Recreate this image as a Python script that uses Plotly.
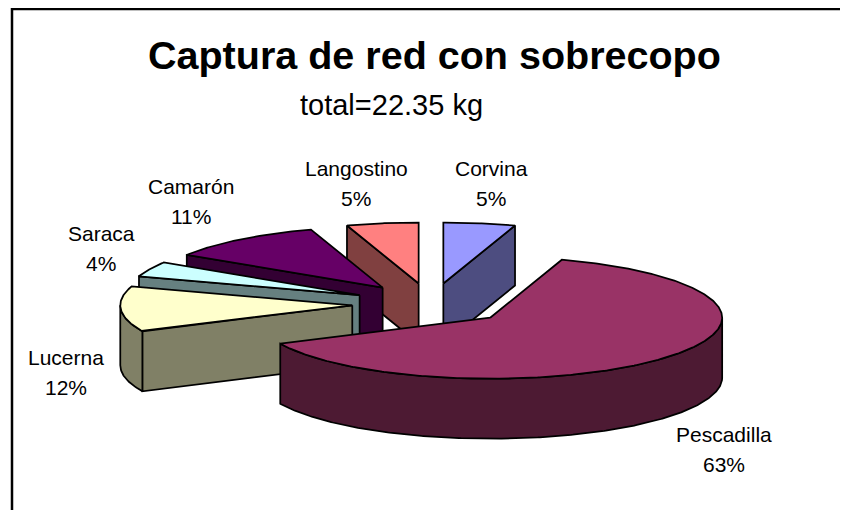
import math
import plotly.graph_objects as go

categories = ["Corvina", "Pescadilla", "Lucerna", "Saraca", "Camarón", "Langostino"]
values = [5, 63, 12, 4, 11, 5]
top_colors = ["#9999FF", "#993366", "#FFFFCC", "#CCFFFF", "#660066", "#FF8080"]
side_colors = ["#4D4D80", "#4D1A33", "#808066", "#668080", "#330033", "#804040"]
title_text = "Captura de red con sobrecopo"
subtitle_text = "total=22.35 kg"
label_positions = {
    "Corvina": (491, 168), "Pescadilla": (724, 434), "Lucerna": (66, 357),
    "Saraca": (101, 233), "Camarón": (191, 186), "Langostino": (356, 168),
}

CX, CY, RX, RY, DEPTH, EXPLODE = 431, 304, 232, 61, 60, 0.34
LINE_GAP = 30.5


def pt(tx, ty, theta, r=1.0):
    a = math.radians(theta)
    return tx + RX * r * math.sin(a), ty - RY * r * math.cos(a)


def arc(tx, ty, a, b, dy=0):
    n = max(2, int(abs(b - a) * 2))
    out = []
    for i in range(n + 1):
        x, y = pt(tx, ty, a + (b - a) * i / n)
        out.append((x, y + dy))
    return out


def poly(points, fill):
    xs = [p[0] for p in points] + [points[0][0]]
    ys = [p[1] for p in points] + [points[0][1]]
    return go.Scatter(x=xs, y=ys, mode="lines", fill="toself", fillcolor=fill,
                      line=dict(color="black", width=1.75), hoverinfo="skip", showlegend=False)


total = sum(values)
wedges = []
start = 0.0
for name, v, top, side in zip(categories, values, top_colors, side_colors):
    end = start + 360.0 * v / total
    mid = (start + end) / 2
    a = math.radians(mid)
    tx = CX + EXPLODE * RX * math.sin(a)
    ty = CY - EXPLODE * RY * math.cos(a)
    wedges.append(dict(name=name, v=v, top=top, side=side, a=start, b=end, tx=tx, ty=ty))
    start = end

fig = go.Figure()
for w in sorted(wedges, key=lambda w: w["ty"]):
    tx, ty, a, b = w["tx"], w["ty"], w["a"], w["b"]
    if math.sin(math.radians(a)) < -1e-6:
        e = pt(tx, ty, a)
        fig.add_trace(poly([(tx, ty), e, (e[0], e[1] + DEPTH), (tx, ty + DEPTH)], w["side"]))
    if math.sin(math.radians(b)) > 1e-6:
        e = pt(tx, ty, b)
        fig.add_trace(poly([(tx, ty), e, (e[0], e[1] + DEPTH), (tx, ty + DEPTH)], w["side"]))
    lo, hi = max(a, 90), min(b, 270)
    if lo < hi:
        fig.add_trace(poly(arc(tx, ty, lo, hi) + arc(tx, ty, hi, lo, DEPTH), w["side"]))
    fig.add_trace(poly([(tx, ty)] + arc(tx, ty, a, b), w["top"]))

annotations = [
    dict(x=434, y=55, text=f"<b>{title_text}</b>", font=dict(size=39.5)),
    dict(x=391, y=105, text=subtitle_text, font=dict(size=29)),
]
for w in wedges:
    x, y = label_positions[w["name"]]
    annotations.append(dict(x=x, y=y, text=w["name"], font=dict(size=21)))
    annotations.append(dict(x=x, y=y + LINE_GAP, text=f"{w['v']}%", font=dict(size=21)))
for an in annotations:
    an.update(xref="x", yref="y", showarrow=False, xanchor="center", yanchor="middle")
    an["font"].update(family="Liberation Sans", color="black")

# The page keeps an 8 px body margin, so the axis ranges start at 8 to stay in page pixels.
fig.update_layout(
    width=848, height=510, margin=dict(l=0, r=0, t=0, b=0),
    paper_bgcolor="white", plot_bgcolor="white", showlegend=False,
    xaxis=dict(range=[8, 856], visible=False, fixedrange=True),
    yaxis=dict(range=[518, 8], visible=False, fixedrange=True),
    annotations=annotations,
    shapes=[dict(type="rect", xref="x", yref="y", x0=12, y0=9, x1=900, y1=600,
                 line=dict(color="black", width=2.5), fillcolor="rgba(0,0,0,0)", layer="below")],
)
fig.write_html("out.html", config=dict(displayModeBar=False))
